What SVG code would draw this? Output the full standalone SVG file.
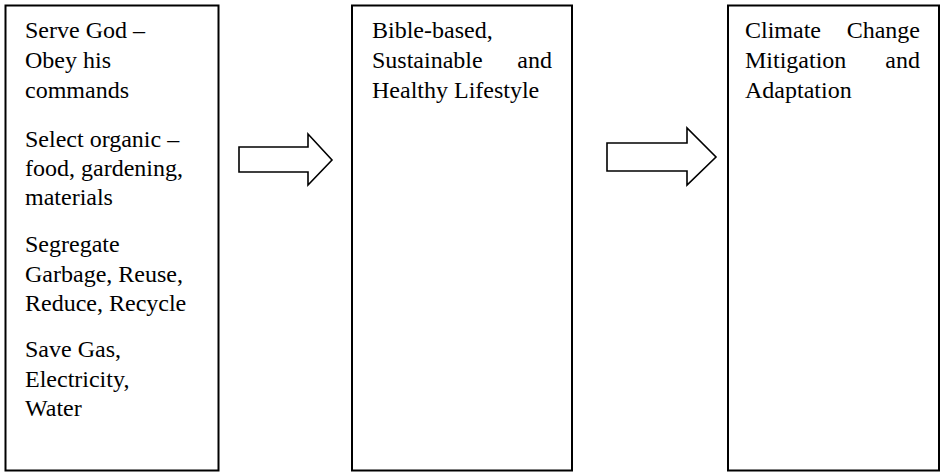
<svg xmlns="http://www.w3.org/2000/svg" width="944" height="473" viewBox="0 0 944 473">
<style>
.box{fill:#fff;stroke:#000;stroke-width:2}
.arr{fill:#fff;stroke:#000;stroke-width:1.6;stroke-linejoin:miter}
text{font-family:"Liberation Serif","Times New Roman",serif;font-size:24px;fill:#000}
</style>
<rect width="944" height="473" fill="#fff"/>
<g id="node-actions">
<rect class="box" x="5.5" y="5.5" width="213" height="465"/>
<text x="25" y="38">Serve God –</text>
<text x="25" y="68">Obey his</text>
<text x="25" y="98">commands</text>
<text x="25" y="147">Select organic –</text>
<text x="25" y="176">food, gardening,</text>
<text x="25" y="205">materials</text>
<text x="25" y="252">Segregate</text>
<text x="25" y="282">Garbage, Reuse,</text>
<text x="25" y="311">Reduce, Recycle</text>
<text x="25" y="357">Save Gas,</text>
<text x="25" y="387">Electricity,</text>
<text x="25" y="416">Water</text>
</g>
<g id="node-lifestyle">
<rect class="box" x="352" y="5.5" width="220" height="465"/>
<text x="372" y="38">Bible-based,</text>
<text x="372" y="68">Sustainable</text>
<text x="552" y="68" text-anchor="end">and</text>
<text x="372" y="98">Healthy Lifestyle</text>
</g>
<g id="node-climate">
<rect class="box" x="728" y="5.5" width="211" height="465"/>
<text x="745" y="38">Climate</text>
<text x="920" y="38" text-anchor="end">Change</text>
<text x="745" y="68">Mitigation</text>
<text x="920" y="68" text-anchor="end">and</text>
<text x="745" y="98">Adaptation</text>
</g>
<g id="connectors">
<polygon class="arr" points="239,147 308,147 308,134 332,160 308,185 308,172 239,172"/>
<polygon class="arr" points="607,143 687,143 687,128 716,157 687,185 687,171 607,171"/>
</g>
</svg>
